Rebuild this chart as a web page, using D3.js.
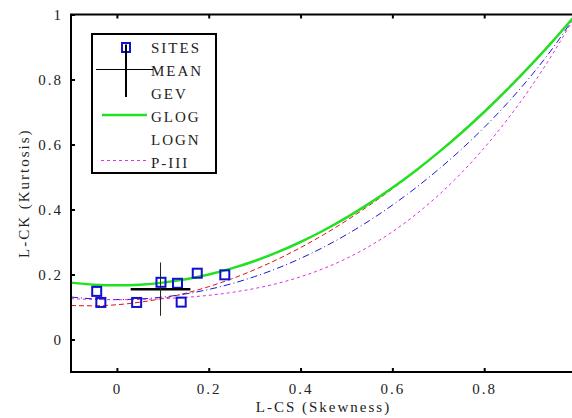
<!DOCTYPE html>
<html>
<head>
<meta charset="utf-8">
<script src="https://cdn.jsdelivr.net/npm/d3@7"></script>
<style>
  html, body { margin: 0; padding: 0; background: #fff; }
  svg text { font-family: "Liberation Serif", "DejaVu Serif", serif; font-size: 15px; letter-spacing: 2px; fill: #222; }
</style>
</head>
<body>
<svg id="chart" width="572" height="418"></svg>
<script>
// L-moment ratio diagram: theoretical curves, site values and regional mean
const curveSkew = [-0.1, -0.05, 0, 0.05, 0.1, 0.15, 0.2, 0.25, 0.3, 0.35, 0.4, 0.45,
                   0.5, 0.55, 0.6, 0.65, 0.7, 0.75, 0.8, 0.85, 0.9, 0.95, 1.0];
const gevKurt  = [0.1045, 0.1036, 0.1070, 0.1147, 0.1265, 0.1425, 0.1626, 0.1867, 0.2148, 0.2468, 0.2827, 0.3224,
                  0.3659, 0.4130, 0.4638, 0.5182, 0.5762, 0.6378, 0.7030, 0.7718, 0.8443, 0.9206, 1.0];
const glogKurt = [0.1750, 0.1688, 0.1667, 0.1688, 0.1750, 0.1854, 0.2000, 0.2188, 0.2417, 0.2688, 0.3000, 0.3354,
                  0.3750, 0.4188, 0.4667, 0.5188, 0.5750, 0.6354, 0.7000, 0.7688, 0.8417, 0.9188, 1.0];
const lognKurt = [0.1306, 0.1248, 0.1228, 0.1248, 0.1306, 0.1403, 0.1540, 0.1717, 0.1935, 0.2194, 0.2495, 0.2839,
                  0.3226, 0.3657, 0.4134, 0.4656, 0.5227, 0.5848, 0.6526, 0.7265, 0.8077, 0.8976, 1.0];
const pe3Kurt  = [0.1255, 0.1232, 0.1224, 0.1232, 0.1255, 0.1297, 0.1359, 0.1448, 0.1569, 0.1727, 0.1929, 0.2182,
                  0.2494, 0.2869, 0.3314, 0.3835, 0.4436, 0.5120, 0.5894, 0.6761, 0.7729, 0.8806, 1.0];

const siteSkew = [-0.044, -0.035, 0.043, 0.096, 0.132, 0.140, 0.175, 0.235];
const siteKurt = [0.148, 0.114, 0.114, 0.176, 0.173, 0.115, 0.204, 0.199];

const meanSkew = 0.095, meanKurt = 0.155;
const meanSkewSpread = 0.065, meanKurtSpread = 0.082;

const xTicks = [0, 0.2, 0.4, 0.6, 0.8];
const yTicks = [0, 0.2, 0.4, 0.6, 0.8, 1];
const legendLabels = ["SITES", "MEAN", "GEV", "GLOG", "LOGN", "P-III"];

const svg = d3.select("#chart");
const plotLeft = 71, plotRight = 576, plotTop = 14.5, plotBottom = 372;
const x = d3.scaleLinear().domain([-0.1, 1.0]).range([plotLeft, plotRight]);
const y = d3.scaleLinear().domain([-0.1, 1.0]).range([plotBottom, plotTop]);

const line = d3.line().x(d => x(d[0])).y(d => y(d[1])).curve(d3.curveMonotoneX);
const pts = arr => curveSkew.map((s, i) => [s, arr[i]]);

const plot = svg.append("g");

// distribution curves
const curves = [
  { data: gevKurt,  color: "#e01010", width: 1,   dash: "5,3" },
  { data: lognKurt, color: "#1a1ad0", width: 1,   dash: "7,3,1,3" },
  { data: pe3Kurt,  color: "#e030e0", width: 1,   dash: "3,3" },
  { data: glogKurt, color: "#22e022", width: 2.5, dash: null }
];
curves.forEach(c => {
  plot.append("path")
    .attr("d", line(pts(c.data)))
    .attr("fill", "none")
    .attr("stroke", c.color)
    .attr("stroke-width", c.width)
    .attr("stroke-dasharray", c.dash);
});

// site values
plot.selectAll("rect.site")
  .data(siteSkew.map((s, i) => [s, siteKurt[i]]))
  .enter().append("rect")
  .attr("class", "site")
  .attr("x", d => x(d[0]) - 4.5)
  .attr("y", d => y(d[1]) - 4.5)
  .attr("width", 9).attr("height", 9)
  .attr("fill", "none")
  .attr("stroke", "#1010d0")
  .attr("stroke-width", 2);

// regional mean with spread
plot.append("line")
  .attr("x1", x(meanSkew - meanSkewSpread)).attr("x2", x(meanSkew + meanSkewSpread))
  .attr("y1", y(meanKurt)).attr("y2", y(meanKurt))
  .attr("stroke", "#000").attr("stroke-width", 2.5);
plot.append("line")
  .attr("x1", x(meanSkew)).attr("x2", x(meanSkew))
  .attr("y1", y(meanKurt - meanKurtSpread)).attr("y2", y(meanKurt + meanKurtSpread))
  .attr("stroke", "#222").attr("stroke-width", 1);

// axes with inward ticks on all four sides
const fmt = d3.format("");
svg.append("g").attr("transform", `translate(0,${plotBottom})`)
  .call(d3.axisBottom(x).tickValues(xTicks).tickFormat(fmt).tickSizeInner(-4).tickSizeOuter(0).tickPadding(11))
  .call(g => g.select(".domain").remove());
svg.append("g").attr("transform", `translate(${plotLeft},0)`)
  .call(d3.axisLeft(y).tickValues(yTicks).tickFormat(fmt).tickSizeInner(-4).tickSizeOuter(0).tickPadding(8))
  .call(g => g.select(".domain").remove());
svg.append("g").attr("transform", `translate(0,${plotTop})`)
  .call(d3.axisTop(x).tickValues(xTicks).tickFormat("").tickSizeInner(-4).tickSizeOuter(0))
  .call(g => g.select(".domain").remove());
svg.append("g").attr("transform", `translate(${plotRight},0)`)
  .call(d3.axisRight(y).tickValues(yTicks).tickFormat("").tickSizeInner(-4).tickSizeOuter(0))
  .call(g => g.select(".domain").remove());
svg.selectAll(".tick line").attr("stroke", "#000").attr("stroke-width", 2);
svg.selectAll(".tick text").attr("fill", "#222").style("font-size", "15px")
  .style("font-family", "'Liberation Serif', serif");

svg.append("rect")
  .attr("x", plotLeft).attr("y", plotTop)
  .attr("width", plotRight - plotLeft).attr("height", plotBottom - plotTop)
  .attr("fill", "none").attr("stroke", "#000").attr("stroke-width", 2);

// axis titles
svg.append("text")
  .attr("x", (plotLeft + plotRight) / 2).attr("y", 412)
  .attr("text-anchor", "middle")
  .text("L-CS (Skewness)");
svg.append("text")
  .attr("transform", `translate(29,${(plotTop + plotBottom) / 2}) rotate(-90)`)
  .attr("text-anchor", "middle")
  .text("L-CK (Kurtosis)");

// legend
const lg = svg.append("g");
lg.append("rect")
  .attr("x", 92).attr("y", 34).attr("width", 124).attr("height", 139)
  .attr("fill", "#fff").attr("stroke", "#000").attr("stroke-width", 2);
const rowY = i => 47.5 + i * 23;
legendLabels.forEach((t, i) => {
  lg.append("text").attr("x", 151).attr("y", rowY(i)).attr("dy", "0.35em").text(t);
});
// SITES symbol
lg.append("rect").attr("x", 122).attr("y", rowY(0) - 4.5).attr("width", 8).attr("height", 9)
  .attr("fill", "none").attr("stroke", "#1010d0").attr("stroke-width", 2);
// MEAN symbol
lg.append("line").attr("x1", 96).attr("x2", 153).attr("y1", rowY(1) - 1).attr("y2", rowY(1) - 1)
  .attr("stroke", "#000").attr("stroke-width", 1);
lg.append("line").attr("x1", 126).attr("x2", 126).attr("y1", rowY(0) - 3).attr("y2", 97)
  .attr("stroke", "#000").attr("stroke-width", 2);
// GLOG symbol
lg.append("line").attr("x1", 102).attr("x2", 147).attr("y1", rowY(3) - 1.5).attr("y2", rowY(3) - 1.5)
  .attr("stroke", "#22e022").attr("stroke-width", 2.5);
// P-III symbol
lg.append("line").attr("x1", 101).attr("x2", 147).attr("y1", rowY(5) - 2).attr("y2", rowY(5) - 2)
  .attr("stroke", "#e030e0").attr("stroke-width", 1).attr("stroke-dasharray", "3,3");
</script>
</body>
</html>
